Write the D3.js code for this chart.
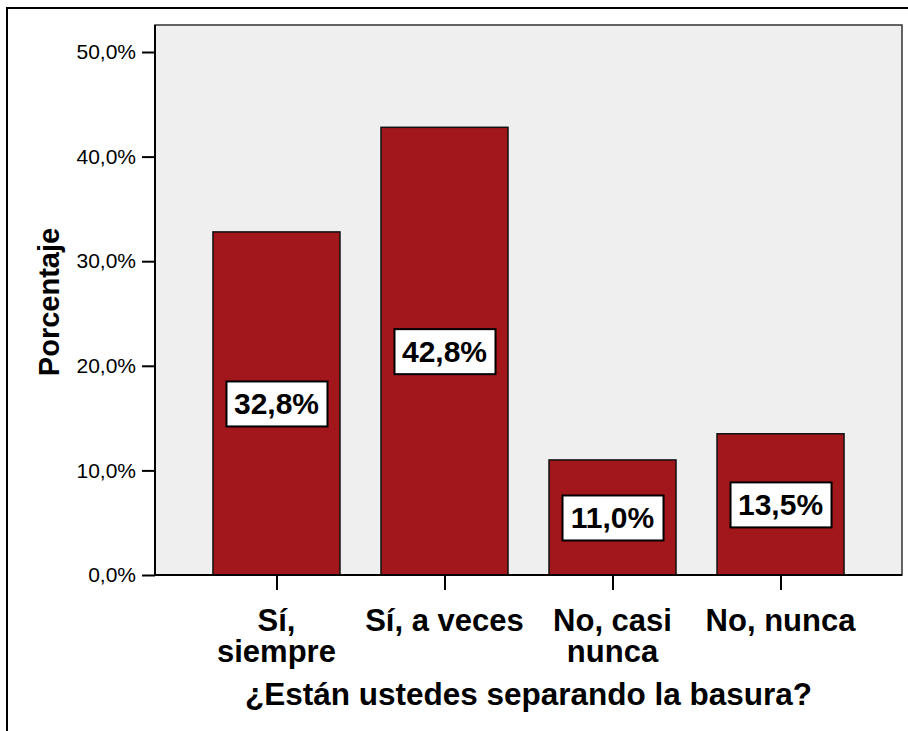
<!DOCTYPE html>
<html>
<head>
<meta charset="utf-8">
<script src="https://cdn.jsdelivr.net/npm/d3@7"></script>
<style>
  body { margin: 0; background: #fff; }
  text { font-family: "Liberation Sans", Arial, sans-serif; }
</style>
</head>
<body>
<div id="chart"></div>
<script>
// data
const categories = ["Sí, siempre", "Sí, a veces", "No, casi nunca", "No, nunca"];
const catLines = [["Sí,", "siempre"], ["Sí, a veces"], ["No, casi", "nunca"], ["No, nunca"]];
const percents = [32.8, 42.8, 11.0, 13.5];
const yTicks = [0, 10, 20, 30, 40, 50];

const W = 908, H = 731;
const plotL = 155, plotR = 902, plotT = 25, plotB = 575;

const svg = d3.select("#chart").append("svg")
    .attr("width", W)
    .attr("height", H);

// outer frame (cut off at right and bottom)
svg.append("path")
    .attr("d", "M7,731 L7,8 L908,8")
    .attr("fill", "none")
    .attr("stroke", "#000")
    .attr("stroke-width", 2);

var x = d3.scalePoint()
    .domain(categories)
    .range([plotL, plotR])
    .padding(0.723);

var y = d3.scaleLinear()
    .domain([0, 50])
    .range([plotB, 52]);

var barW = 127;

// plot background
svg.append("rect")
    .attr("x", plotL)
    .attr("y", plotT)
    .attr("width", plotR - plotL)
    .attr("height", plotB - plotT)
    .attr("fill", "#efefef")
    .attr("stroke", "#333")
    .attr("stroke-width", 1.5);

// bars
svg.selectAll(".bar")
    .data(percents)
    .enter()
    .append("rect")
        .attr("class", "bar")
        .attr("x", (d, i) => x(categories[i]) - barW / 2)
        .attr("y", d => y(d))
        .attr("width", barW)
        .attr("height", d => y(0) - y(d))
        .attr("fill", "#a1171b")
        .attr("stroke", "#111")
        .attr("stroke-width", 1.5);

// value labels
var labels = svg.selectAll(".vlab")
    .data(percents)
    .enter()
    .append("g")
        .attr("class", "vlab")
        .attr("transform", (d, i) => "translate(" + x(categories[i]) + "," + (y(d) + y(0)) / 2 + ")");

labels.append("rect")
    .attr("x", -50)
    .attr("y", -22)
    .attr("width", 101)
    .attr("height", 45)
    .attr("fill", "#fff")
    .attr("stroke", "#000")
    .attr("stroke-width", 2);

labels.append("text")
    .attr("text-anchor", "middle")
    .attr("y", 11)
    .attr("font-size", "30px")
    .attr("font-weight", "bold")
    .text(d => d3.format(".1f")(d).replace(".", ",") + "%");

// y axis
var yAxis = svg.append("g")
    .attr("transform", "translate(" + plotL + ",0)")
    .call(d3.axisLeft(y).tickValues(yTicks).tickSize(13).tickPadding(6)
        .tickFormat(d => d3.format(".1f")(d).replace(".", ",") + "%"));
yAxis.select(".domain").remove();
yAxis.selectAll(".tick line").attr("stroke", "#000").attr("stroke-width", 2);
yAxis.selectAll("text")
    .attr("font-size", "21px")
    .attr("font-family", "Liberation Sans, Arial, sans-serif")
    .attr("fill", "#000");

svg.append("line")
    .attr("x1", plotL).attr("x2", plotL)
    .attr("y1", plotT).attr("y2", plotB + 1)
    .attr("stroke", "#000")
    .attr("stroke-width", 2);

// x axis
var xAxis = svg.append("g")
    .attr("transform", "translate(0," + plotB + ")")
    .call(d3.axisBottom(x).tickSize(15).tickFormat(""));
xAxis.select(".domain").remove();
xAxis.selectAll(".tick line").attr("stroke", "#000").attr("stroke-width", 2);

svg.append("line")
    .attr("x1", plotL - 1).attr("x2", plotR)
    .attr("y1", plotB).attr("y2", plotB)
    .attr("stroke", "#000")
    .attr("stroke-width", 2);

// category labels
var cat = svg.selectAll(".cat")
    .data(catLines)
    .enter()
    .append("text")
        .attr("class", "cat")
        .attr("text-anchor", "middle")
        .attr("font-size", "31px")
        .attr("font-weight", "bold")
        .attr("x", (d, i) => x(categories[i]));

cat.selectAll("tspan")
    .data(d => d)
    .enter()
    .append("tspan")
        .attr("x", function() { return this.parentNode.getAttribute("x"); })
        .attr("y", (d, i) => 631 + i * 31)
        .text(d => d);

// axis titles
svg.append("text")
    .attr("text-anchor", "middle")
    .attr("x", (plotL + plotR) / 2)
    .attr("y", 705)
    .attr("font-size", "31.5px")
    .attr("font-weight", "bold")
    .text("¿Están ustedes separando la basura?");

svg.append("text")
    .attr("text-anchor", "middle")
    .attr("transform", "translate(59," + 302 + ") rotate(-90)")
    .attr("font-size", "29px")
    .attr("font-weight", "bold")
    .text("Porcentaje");
</script>
</body>
</html>
